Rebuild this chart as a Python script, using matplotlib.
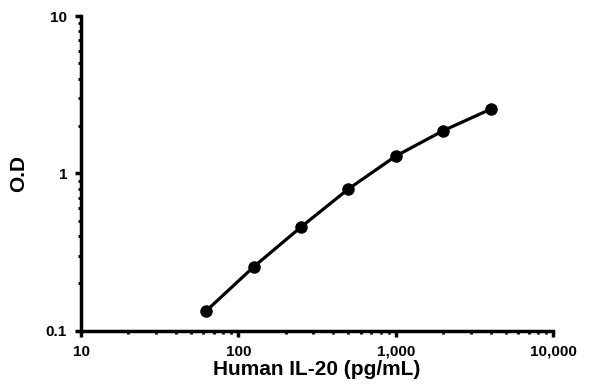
import numpy as np
import matplotlib
matplotlib.use("Agg")
import matplotlib.pyplot as plt
from matplotlib.ticker import FixedLocator, FixedFormatter, LogLocator, NullFormatter

conc = [62.5, 125, 250, 500, 1000, 2000, 4000]
od = [0.134, 0.255, 0.457, 0.797, 1.29, 1.87, 2.56]

xticks = [10, 100, 1000, 10000]
xticklabels = ["10", "100", "1,000", "10,000"]
yticks = [0.1, 1, 10]
yticklabels = ["0.1", "1", "10"]

plt.rcParams['font.family'] = ['Liberation Sans', 'DejaVu Sans']
plt.rcParams['font.weight'] = 'bold'

fig = plt.figure(figsize=(6, 3.92), dpi=100)
ax = fig.add_axes([0.135, 0.156, 0.787, 0.803])

ax.plot(conc, od, color='black', lw=2.3, marker='o', ms=8, solid_capstyle='round')

ax.set_xscale('log')
ax.set_yscale('log')
ax.set_xlim(10, 10000)
ax.set_ylim(0.1, 10)

ax.xaxis.set_major_locator(FixedLocator(xticks))
ax.xaxis.set_major_formatter(FixedFormatter(xticklabels))
ax.yaxis.set_major_locator(FixedLocator(yticks))
ax.yaxis.set_major_formatter(FixedFormatter(yticklabels))
ax.xaxis.set_minor_locator(LogLocator(base=10, subs=np.arange(2, 10)))
ax.yaxis.set_minor_locator(LogLocator(base=10, subs=np.arange(2, 10)))
ax.xaxis.set_minor_formatter(NullFormatter())
ax.yaxis.set_minor_formatter(NullFormatter())

for s in ['top', 'right']:
    ax.spines[s].set_visible(False)
for s in ['left', 'bottom']:
    ax.spines[s].set_linewidth(2.5)

ax.tick_params(which='major', length=4, width=2.5, labelsize=11, pad=6)
ax.tick_params(which='minor', length=2.5, width=2)
for lab in ax.get_xticklabels() + ax.get_yticklabels():
    lab.set_fontweight('bold')

ax.set_xlabel("Human IL-20 (pg/mL)", fontsize=15, fontweight='bold', labelpad=1)
ax.set_ylabel("O.D", fontsize=15, fontweight='bold', labelpad=13)

fig.savefig("out.png", dpi=100)
